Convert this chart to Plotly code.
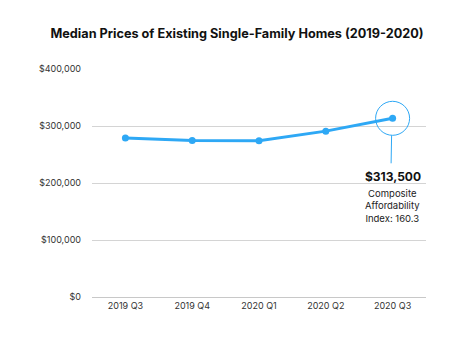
import plotly.graph_objects as go

quarters = ["2019 Q3", "2019 Q4", "2020 Q1", "2020 Q2", "2020 Q3"]
prices = [279000, 274500, 274000, 291000, 313500]
y_ticks = [0, 100000, 200000, 300000, 400000]
y_tick_labels = ["$0", "$100,000", "$200,000", "$300,000", "$400,000"]
callout_value = "$313,500"
callout_text = "Composite<br>Affordability<br>Index: 160.3"

blue = "#2ea8f5"
font_main = "Inter, Lato, sans-serif"

fig = go.Figure()
fig.add_trace(go.Scatter(
    x=quarters, y=prices, mode="lines+markers",
    line=dict(color=blue, width=3),
    marker=dict(color=blue, size=7),
    hoverinfo="skip", showlegend=False,
))

last_x = quarters[-1]
last_y = prices[-1]

fig.add_shape(type="circle", xref="x", yref="y",
              xsizemode="pixel", ysizemode="pixel",
              xanchor=last_x, yanchor=last_y,
              x0=-17, x1=17, y0=-17, y1=17,
              line=dict(color=blue, width=1), fillcolor="rgba(0,0,0,0)")
fig.add_shape(type="line", xref="x", yref="y",
              xsizemode="pixel", ysizemode="pixel",
              xanchor=last_x, yanchor=last_y,
              x0=-1, x1=-1.5, y0=-17, y1=-45,
              line=dict(color=blue, width=1))

fig.add_annotation(x=last_x, y=last_y, xref="x", yref="y",
                   text="<b>" + callout_value + "</b>", showarrow=False,
                   yshift=-58, font=dict(family=font_main, size=12, color="#111111"))
fig.add_annotation(x=last_x, y=last_y, xref="x", yref="y",
                   text=callout_text, showarrow=False, align="center",
                   yshift=-88, font=dict(family=font_main, size=9.5, color="#222222"))

fig.update_layout(
    width=474, height=338,
    margin=dict(l=92, r=48, t=69, b=41),
    paper_bgcolor="white", plot_bgcolor="white",
    title=dict(text="<b>Median Prices of Existing Single-Family Homes (2019-2020)</b>",
               x=0.5, xanchor="center", y=0.9, yanchor="middle",
               font=dict(family=font_main, size=12.7, color="#111111")),
    xaxis=dict(type="category", range=[-0.5, 4.5], showgrid=False, showline=False,
               zeroline=False, ticks="", tickfont=dict(family=font_main, size=9, color="#333333"),
               ticklabelstandoff=2),
    yaxis=dict(range=[0, 400000], tickvals=y_ticks, ticktext=y_tick_labels,
               showgrid=True, gridcolor="#d4d4d4", gridwidth=1,
               zeroline=True, zerolinecolor="#c8c8c8", zerolinewidth=1,
               showline=False, ticks="",
               tickfont=dict(family=font_main, size=9, color="#333333"),
               ticklabelstandoff=10),
)

fig.write_html("out.html")
